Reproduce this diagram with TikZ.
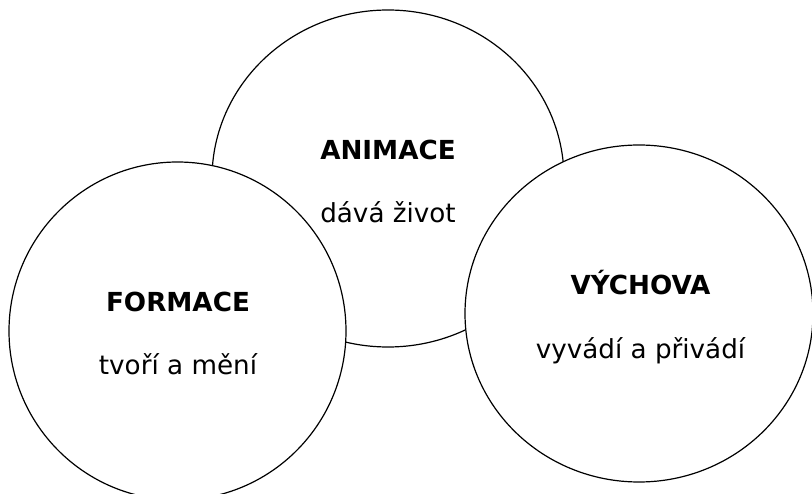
\documentclass[tikz,border=0pt]{standalone}
\usepackage{fontspec}
\setmainfont{DejaVu Sans}
\begin{document}
\begin{tikzpicture}[x=1pt,y=-1pt,
  blob/.style={draw=black,fill=white,line width=1.2pt},
  ttl/.style={anchor=base,font=\fontsize{26.2}{30}\selectfont\bfseries,inner sep=0pt},
  sub/.style={anchor=base,font=\fontsize{26.2}{30}\selectfont,inner sep=0pt}]
\useasboundingbox (0,0) rectangle (812,494);
\draw[blob] (388,178.5) ellipse [x radius=176, y radius=168.5];
\draw[blob] (177.5,331) ellipse [x radius=168.5, y radius=169];
\draw[blob] (639,313.5) ellipse [x radius=174, y radius=168.5];
\node[ttl] (anim) at (388,160) {ANIMACE};
\node[sub] (anims) at (388,223) {dává život};
\node[ttl] (form) at (178,311.5) {FORMACE};
\node[sub] (forms) at (178,375) {tvoří a mění};
\node[ttl] (vych) at (640.5,295) {VÝCHOVA};
\node[sub] (vychs) at (640.5,359) {vyvádí a přivádí};
\end{tikzpicture}
\end{document}
